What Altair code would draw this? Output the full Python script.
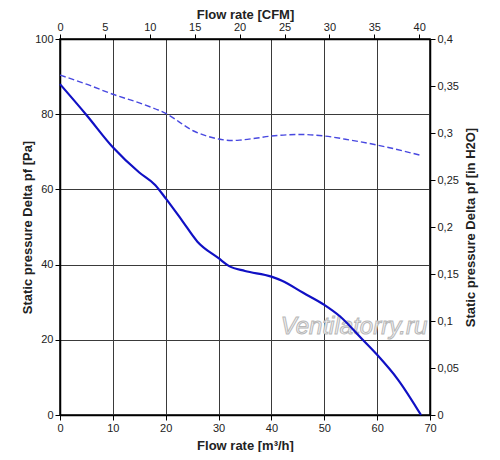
import altair as alt
import pandas as pd

# Solid curve (static pressure, Pa) vs flow rate (m3/h)
flow_solid = [0, 5, 10, 15, 18, 20, 23, 26, 30, 32, 35, 40, 42, 46, 50, 53, 57, 60, 64, 68.3]
p_solid = [88, 79.8, 71.2, 64.5, 61.2, 57.6, 51.9, 46.1, 41.7, 39.6, 38.3, 36.8, 35.7, 32.5, 29.3, 26.2, 20.4, 16.0, 9.3, 0]

# Dashed curve
flow_dash = [0, 5, 10, 15, 20, 25.5, 30, 32.5, 34, 37, 40, 45.4, 50, 55, 60, 68.4]
p_dash = [90.4, 88, 85.3, 83, 80.2, 75.4, 73.4, 73.0, 73.1, 73.6, 74.2, 74.6, 74.2, 73.1, 71.8, 69.0]

x_ticks = [0, 10, 20, 30, 40, 50, 60, 70]
y_ticks = [0, 20, 40, 60, 80, 100]
cfm_ticks = [0, 5, 10, 15, 20, 25, 30, 35, 40]
inh2o_ticks = [0, 0.05, 0.1, 0.15, 0.2, 0.25, 0.3, 0.35, 0.4]

M3H_PER_CFM = 1.699
PA_PER_INH2O = 250.0

df_solid = pd.DataFrame({"q": flow_solid, "p": p_solid})
df_dash = pd.DataFrame({"q": flow_dash, "p": p_dash})
df_aux = pd.DataFrame({"cfm": [0, 70 / M3H_PER_CFM], "inh2o": [0, 100 / PA_PER_INH2O]})

FONT = "Liberation Sans"
TXT = "#222222"
W, H = 370, 376

common = dict(
    tickSize=5, tickColor="black", domainColor="black", domainWidth=1.5,
    labelFont=FONT, labelFontSize=11, labelColor=TXT, labelPadding=2, labelFlush=False,
    titleFont=FONT, titleFontSize=13, titleFontWeight="bold", titleColor=TXT,
    titleAlign="center", titleBaseline="middle",
)

x_main = alt.X(
    "q:Q",
    scale=alt.Scale(domain=[0, 70], nice=False, zero=False),
    axis=alt.Axis(
        title="Flow rate [m³/h]", values=x_ticks, orient="bottom",
        grid=True, gridColor="#3a3a3a", gridWidth=1, gridOpacity=1,
        titleX=W / 2, titleY=30, **common,
    ),
)
y_main = alt.Y(
    "p:Q",
    scale=alt.Scale(domain=[0, 100], nice=False, zero=False),
    axis=alt.Axis(
        title="Static pressure Delta pf [Pa]", values=y_ticks, orient="left",
        grid=True, gridColor="#3a3a3a", gridWidth=1, gridOpacity=1,
        titleX=-33, titleY=H / 2, titleAngle=270, **common,
    ),
)

watermark = alt.Chart(pd.DataFrame({"t": ["Ventilatorry.ru"]})).mark_text(
    font=FONT, fontSize=24, fontStyle="italic", fill="#f4f4f4",
    stroke="#b8b8b8", strokeWidth=1, align="center", baseline="middle",
).encode(x=alt.value(294), y=alt.value(288), text="t:N")

solid = alt.Chart(df_solid).mark_line(
    color="#1010c4", strokeWidth=2.2, interpolate="monotone"
).encode(x=x_main, y=y_main)

dashed = alt.Chart(df_dash).mark_line(
    color="#4848e0", strokeWidth=1.4, strokeDash=[6, 3], interpolate="monotone"
).encode(x="q:Q", y="p:Q")

main = alt.layer(solid, dashed)

aux = alt.Chart(df_aux).mark_point(opacity=0).encode(
    x=alt.X(
        "cfm:Q",
        scale=alt.Scale(domain=[0, 70 / M3H_PER_CFM], nice=False, zero=False),
        axis=alt.Axis(
            title="Flow rate [CFM]", values=cfm_ticks, orient="top", grid=False,
            titleX=W / 2, titleY=-25, **common,
        ),
    ),
    y=alt.Y(
        "inh2o:Q",
        scale=alt.Scale(domain=[0, 0.4], nice=False, zero=False),
        axis=alt.Axis(
            title="Static pressure Delta pf [in H2O]", values=inh2o_ticks, orient="right", grid=False,
            labelExpr="replace(format(datum.value, '.2~f'), '.', ',')",
            titleX=40, titleY=H / 2, titleAngle=270, **common,
        ),
    ),
)

chart = alt.layer(watermark, main, aux).resolve_scale(
    x="independent", y="independent"
).properties(
    width=W, height=H,
    autosize=alt.AutoSizeParams(type="none"),
    padding={"left": 52, "top": 31, "right": 56, "bottom": 37},
    background="white",
).configure_view(stroke="black", strokeWidth=1.5)

chart.save("out.html", embed_options={"renderer": "svg", "actions": False})
